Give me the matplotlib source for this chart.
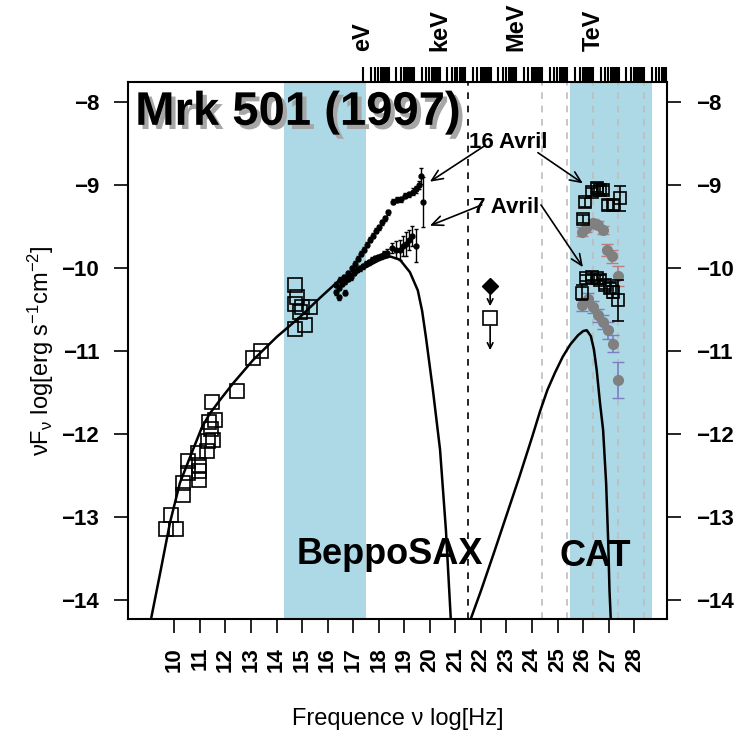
import numpy as np
import matplotlib
matplotlib.use("Agg")
import matplotlib.pyplot as plt
import matplotlib.patheffects as pe

plt.rcParams['font.family'] = ['Liberation Sans', 'DejaVu Sans']
plt.rcParams['mathtext.fontset'] = 'custom'
plt.rcParams['mathtext.rm'] = 'Liberation Sans'
plt.rcParams['mathtext.default'] = 'regular'

# radio / optical archival points
radio_x = [14.72, 14.81, 14.72, 14.98, 15.31, 14.92, 15.11, 14.72, 13.39, 13.09, 12.46,
           11.47, 11.59, 11.37, 11.42, 11.53, 11.33, 11.27, 10.94, 10.55, 10.98, 10.98,
           10.55, 10.98, 10.35, 10.35, 9.87, 9.68, 10.07]
radio_y = [-10.20, -10.35, -10.43, -10.47, -10.47, -10.53, -10.69, -10.74, -11.00, -11.08, -11.48,
           -11.61, -11.83, -11.85, -11.94, -12.07, -12.08, -12.21, -12.23, -12.33, -12.37, -12.45,
           -12.47, -12.56, -12.59, -12.73, -12.98, -13.15, -13.14]

# BeppoSAX 16 April
sax16_x = [16.33, 16.48, 16.64, 16.80, 16.95, 17.07, 17.19, 17.31, 17.42, 17.54, 17.66, 17.77,
           17.89, 18.01, 18.13, 18.24, 18.36, 18.55, 18.71, 18.87, 19.02, 19.18, 19.34, 19.45,
           19.57, 19.67, 19.74]
sax16_y = [-10.20, -10.14, -10.11, -10.06, -10.00, -9.95, -9.89, -9.83, -9.78, -9.72, -9.66, -9.61,
           -9.55, -9.51, -9.45, -9.40, -9.33, -9.20, -9.18, -9.17, -9.13, -9.11, -9.08, -9.05,
           -9.00, -8.89, -9.20]
sax16_err = [0.03, 0.03, 0.03, 0.03, 0.03, 0.03, 0.03, 0.03, 0.03, 0.03, 0.03, 0.03,
             0.03, 0.03, 0.03, 0.03, 0.03, 0.03, 0.03, 0.03, 0.03, 0.03, 0.04, 0.04,
             0.05, 0.10, 0.30]

# BeppoSAX 7 April
sax7_x = [16.33, 16.44, 16.56, 16.68, 16.80, 16.91, 17.03, 17.15, 17.27, 17.38, 17.50, 17.62,
          17.73, 17.85, 17.97, 18.09, 18.20, 18.32, 18.52, 18.67, 18.83, 18.94, 19.06, 19.18,
          19.29, 19.45, 16.44, 16.68]
sax7_y = [-10.29, -10.24, -10.19, -10.16, -10.13, -10.11, -10.06, -10.02, -10.00, -9.98, -9.95, -9.93,
          -9.90, -9.88, -9.87, -9.86, -9.83, -9.82, -9.76, -9.78, -9.78, -9.73, -9.71, -9.66,
          -9.61, -9.73, -10.35, -10.30]
sax7_err = [0.03, 0.03, 0.03, 0.03, 0.03, 0.03, 0.03, 0.03, 0.03, 0.03, 0.03, 0.03,
            0.03, 0.03, 0.03, 0.03, 0.04, 0.05, 0.06, 0.10, 0.12, 0.12, 0.14, 0.12,
            0.12, 0.20, 0.03, 0.03]

# upper limits
ul_x = [22.36, 22.36]
ul_y = [-10.22, -10.60]
ul_to = [-10.46, -10.99]

# CAT squares
cat16_x = [25.98, 26.07, 26.33, 26.53, 26.66, 26.78, 26.98, 27.18, 27.44]
cat16_y = [-9.41, -9.21, -9.08, -9.03, -9.06, -9.06, -9.24, -9.24, -9.16]
cat16_err = [0.05, 0.05, 0.05, 0.05, 0.05, 0.05, 0.06, 0.06, 0.15]
cat7_x = [25.94, 26.13, 26.33, 26.53, 26.66, 26.85, 27.05, 27.18, 27.37]
cat7_y = [-10.30, -10.12, -10.11, -10.12, -10.14, -10.20, -10.24, -10.29, -10.39]
cat7_err = [0.09, 0.04, 0.04, 0.04, 0.05, 0.05, 0.06, 0.07, 0.25]

# grey circles
grey16_x = [25.94, 26.13, 26.39, 26.59, 26.78, 26.92, 27.11, 27.37]
grey16_y = [-9.56, -9.52, -9.46, -9.48, -9.54, -9.78, -9.86, -10.10]
grey16_err = [0.05, 0.05, 0.05, 0.05, 0.05, 0.07, 0.08, 0.12]
grey7_x = [25.94, 26.20, 26.39, 26.59, 26.78, 26.98, 27.18, 27.37]
grey7_y = [-10.45, -10.37, -10.47, -10.57, -10.65, -10.75, -10.91, -11.35]
grey7_err = [0.07, 0.07, 0.07, 0.08, 0.08, 0.10, 0.10, 0.22]

# model curves
syn_x = [9.09, 9.47, 9.83, 10.22, 10.73, 11.08, 11.40, 11.79, 12.30, 13.08, 14.01, 14.92,
         15.70, 16.48, 17.50, 18.05, 18.44, 18.83, 19.22, 19.53, 19.70, 19.85, 20.12, 20.40,
         20.63, 20.82]
syn_y = [-14.23, -13.64, -13.07, -12.59, -12.19, -11.92, -11.75, -11.59, -11.39, -11.11, -10.83, -10.59,
         -10.36, -10.14, -9.99, -9.90, -9.86, -9.90, -10.05, -10.27, -10.52, -10.84, -11.47, -12.19,
         -13.16, -14.23]
ic_x = [21.60, 22.00, 22.50, 23.00, 23.50, 24.00, 24.31, 24.60, 24.90, 25.20, 25.50, 25.80,
        26.00, 26.14, 26.30, 26.42, 26.53, 26.66, 26.78, 26.90, 26.98, 27.03, 27.08]
ic_y = [-14.23, -13.89, -13.44, -12.98, -12.52, -12.04, -11.73, -11.47, -11.26, -11.07, -10.92, -10.81,
        -10.76, -10.75, -10.82, -10.98, -11.23, -11.63, -11.95, -12.60, -13.30, -13.88, -14.23]

grey_lines = [24.38, 25.38, 26.38, 27.38, 28.38]
black_line = 21.48
energy_labels = ['eV', 'keV', 'MeV', 'TeV']
energy_pos = [17.383, 20.383, 23.383, 26.383]

fig = plt.figure(figsize=(7.52, 7.37), dpi=100)
ax = fig.add_axes([0.1706, 0.1601, 0.716, 0.729])
ax.set_xlim(8.2, 29.27)
ax.set_ylim(-14.23, -7.755)

ax.axvspan(14.3, 17.5, color='#add8e6', lw=0, zorder=0)
ax.axvspan(25.5, 28.7, color='#add8e6', lw=0, zorder=0)
for g in grey_lines:
    ax.axvline(g, color='#bdbdbd', ls=(0, (4, 4)), lw=1.2, zorder=1)
ax.axvline(black_line, color='k', ls=(0, (4, 4)), lw=1.2, zorder=1)

ax.plot(syn_x, syn_y, color='k', lw=1.8, zorder=3)
ax.plot(ic_x, ic_y, color='k', lw=1.8, zorder=3)

ax.plot(radio_x, radio_y, 's', ms=10, mfc='none', mec='k', mew=1.2, zorder=4)

ax.errorbar(sax16_x, sax16_y, yerr=sax16_err, fmt='o', ms=3.5, color='k',
            elinewidth=1, capsize=1.5, zorder=4)
ax.errorbar(sax7_x, sax7_y, yerr=sax7_err, fmt='o', ms=3.5, color='k',
            elinewidth=1, capsize=1.5, zorder=4)

ax.plot(ul_x[0], ul_y[0], 'D', ms=8, color='k', zorder=4)
ax.plot(ul_x[1], ul_y[1], 's', ms=10, mfc='none', mec='k', mew=1.2, zorder=4)
for x0, y0, y1 in zip(ul_x, ul_y, ul_to):
    ax.annotate('', xy=(x0, y1), xytext=(x0, y0),
                arrowprops=dict(arrowstyle='->', color='k', lw=1.2, shrinkA=6, shrinkB=0))

ax.errorbar(grey16_x, grey16_y, yerr=grey16_err, fmt='o', ms=7, color='#808080',
            ecolor='#c27b7b', elinewidth=1.2, capsize=4, zorder=4)
ax.errorbar(grey7_x, grey7_y, yerr=grey7_err, fmt='o', ms=7, color='#808080',
            ecolor='#7b7fc2', elinewidth=1.2, capsize=4, zorder=4)
ax.errorbar(cat16_x, cat16_y, yerr=cat16_err, fmt='s', ms=8.5, mfc='none', mec='k', mew=1.2,
            ecolor='k', elinewidth=1.2, capsize=4, zorder=5)
ax.errorbar(cat7_x, cat7_y, yerr=cat7_err, fmt='s', ms=8.5, mfc='none', mec='k', mew=1.2,
            ecolor='k', elinewidth=1.2, capsize=4, zorder=5)

# labels and arrows
ax.text(8.47, -8.13, 'Mrk 501 (1997)', fontsize=34, fontweight='bold', va='center', ha='left',
        zorder=6, path_effects=[pe.SimplePatchShadow(offset=(3, -3), shadow_rgbFace='0.65', alpha=1),
                                pe.Normal()])
ax.text(23.06, -8.49, '16 Avril', fontsize=16, fontweight='bold', ha='center', va='center', zorder=6)
ax.text(22.98, -9.27, '7 Avril', fontsize=16, fontweight='bold', ha='center', va='center', zorder=6)
arrows = [((22.18, -8.52), (20.0, -8.96)), ((24.23, -8.61), (25.99, -8.98)),
          ((22.03, -9.24), (20.0, -9.49)), ((24.35, -9.24), (25.99, -9.99))]
for start, end in arrows:
    ax.annotate('', xy=end, xytext=start,
                arrowprops=dict(arrowstyle='->,head_length=0.8,head_width=0.35', color='k', lw=1.2,
                                shrinkA=0, shrinkB=0), zorder=6)
ax.text(18.43, -13.45, 'BeppoSAX', fontsize=26, fontweight='bold', ha='center', va='center', zorder=6)
ax.text(26.46, -13.48, 'CAT', fontsize=26, fontweight='bold', ha='center', va='center', zorder=6)

# axes
yt = [-8, -9, -10, -11, -12, -13, -14]
ax.set_yticks(yt)
ax.set_yticklabels(['\u2212%d' % (-v) for v in yt], fontweight='bold', fontsize=16)
xt = list(range(10, 29))
ax.set_xticks(xt)
ax.set_xticklabels([str(v) for v in xt], rotation=90, fontweight='bold', fontsize=16)
ax.tick_params(axis='both', direction='out', length=10, width=1.2, pad=10)
ax.tick_params(axis='y', right=True, labelright=True, pad=11)
for s in ax.spines.values():
    s.set_linewidth(1.5)
ax.set_xlabel('Frequence ν log[Hz]', fontsize=17, labelpad=26)
ax.set_ylabel('νF$_ν$ log[erg s$^{-1}$cm$^{-2}$]', fontsize=17, labelpad=4)

top = ax.twiny()
top.set_xlim(ax.get_xlim())
tpos = []
tlab = []
for n in range(0, 12):
    for k in range(1, 10):
        p = 17.383 + n + np.log10(k)
        if p <= 29.27:
            tpos.append(p)
            tlab.append('')
for lab, p in zip(energy_labels, energy_pos):
    i = int(np.argmin(np.abs(np.array(tpos) - p)))
    tlab[i] = lab
top.set_xticks(tpos)
top.set_xticklabels(tlab, rotation=90, fontweight='bold', fontsize=17)
top.tick_params(axis='x', direction='out', length=11, width=1.5, pad=11)
for s in top.spines.values():
    s.set_visible(False)

fig.savefig('out.png', dpi=100)
